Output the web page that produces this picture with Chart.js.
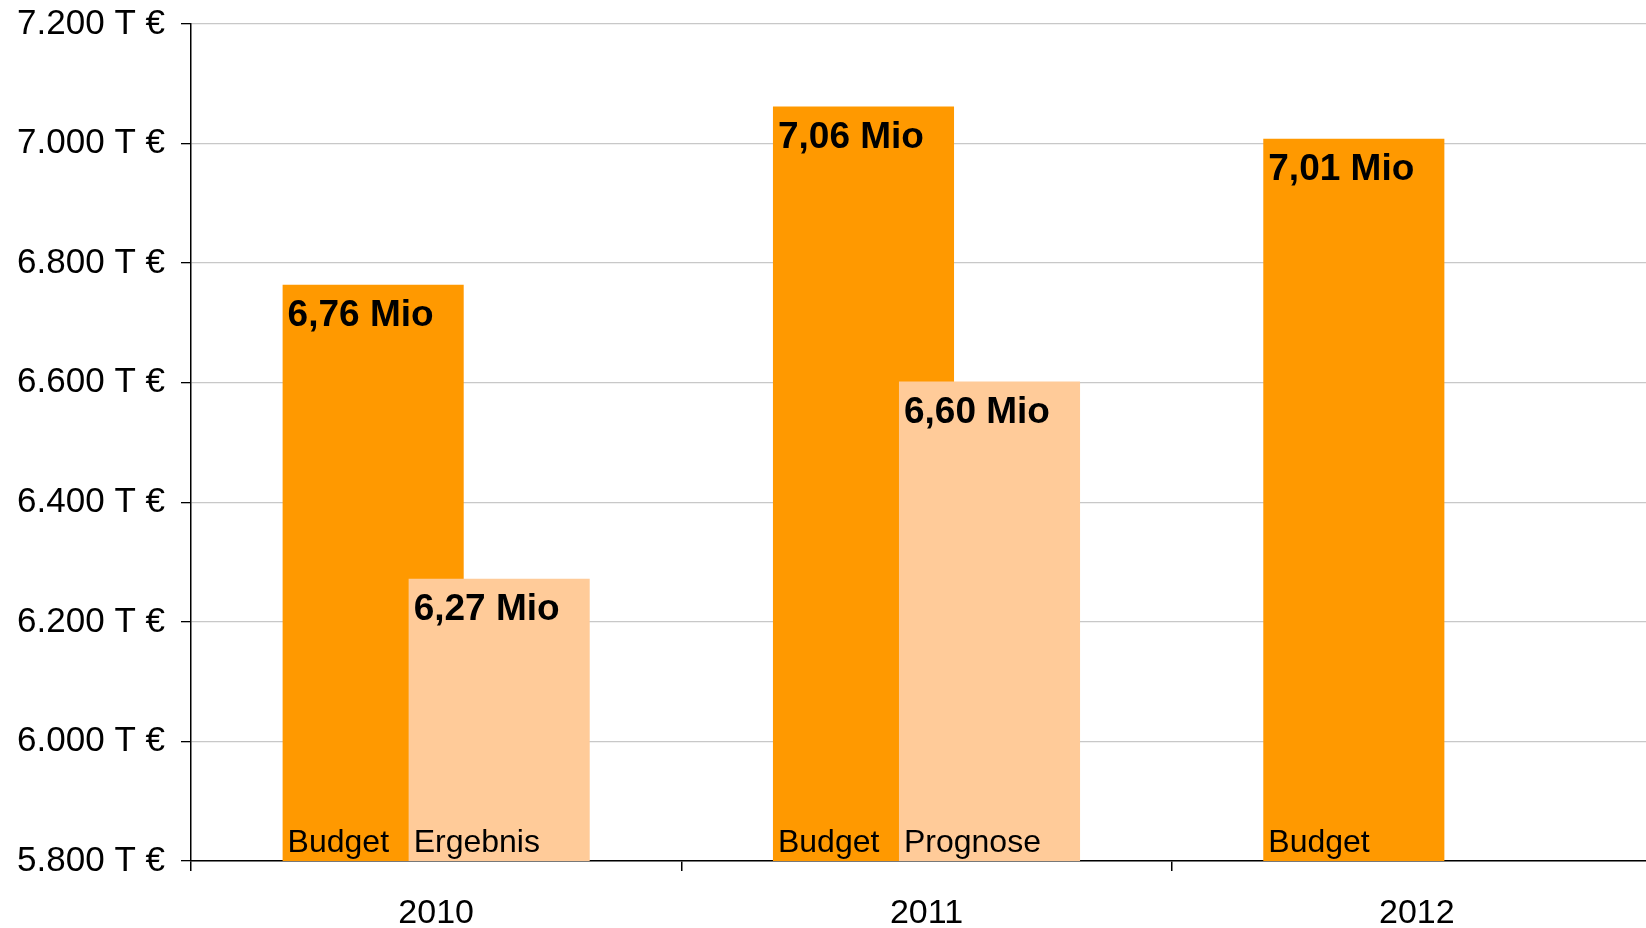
<!DOCTYPE html>
<html>
<head>
<meta charset="utf-8">
<script src="https://cdn.jsdelivr.net/npm/chart.js@4/dist/chart.umd.min.js"></script>
<style>
body { margin: 0; overflow: hidden; background: #fff; }
#wrap { position: absolute; left: 0; top: 0; width: 1662px; height: 928px; }
</style>
</head>
<body>
<div id="wrap"><canvas id="chart" width="1662" height="928"></canvas></div>
<script>
const years = ["2010", "2011", "2012"];
const budget = [6764, 7062, 7008];
const actual = [6272, 6602, null];
const budgetNames = ["Budget", "Budget", "Budget"];
const actualNames = ["Ergebnis", "Prognose", null];
const yTicks = [5800, 6000, 6200, 6400, 6600, 6800, 7000, 7200];

const font = "'Liberation Sans', Arial, sans-serif";
const mio = v => (v / 1000).toFixed(2).replace(".", ",") + " Mio";

// budget bars first, then the lighter ones on top of them, then the texts
const barText = {
	id: "barText",
	beforeDatasetsDraw(chart) {
		const { ctx, chartArea: a } = chart;
		ctx.save();
		ctx.beginPath();
		ctx.rect(a.left, a.top, a.right - a.left, a.bottom - a.top);
		ctx.clip();
		chart.getDatasetMeta(0).controller.draw();
		chart.getDatasetMeta(1).controller.draw();
		ctx.restore();
		return false;
	},
	afterDraw(chart) {
		const { ctx, chartArea: a } = chart;
		ctx.save();
		ctx.fillStyle = "#000";
		ctx.textAlign = "left";
		ctx.textBaseline = "alphabetic";
		[budgetNames, actualNames].forEach((names, d) => {
			const values = chart.data.datasets[d].data;
			chart.getDatasetMeta(d).data.forEach((bar, i) => {
				if (values[i] == null) return;
				const left = bar.x - bar.width / 2;
				ctx.font = "bold 37px " + font;
				ctx.fillText(mio(values[i]), left + 5, bar.y + 41);
				ctx.font = "32px " + font;
				ctx.fillText(names[i], left + 5, Math.min(bar.base, a.bottom) - 9);
			});
		});
		ctx.restore();
	},
};

new Chart(document.getElementById("chart"), {
	type: "bar",
	data: {
		labels: years,
		datasets: [
			{ data: budget, backgroundColor: "#ff9900" },
			{ data: actual, backgroundColor: "#ffcb99" },
		],
	},
	options: {
		responsive: false,
		animation: false,
		events: [],
		categoryPercentage: 0.514,
		barPercentage: 1.437,
		layout: { padding: { top: 24, right: 0, bottom: 0, left: 0 } },
		plugins: { legend: { display: false }, tooltip: { enabled: false } },
		scales: {
			x: {
				afterFit: s => { s.height = 67; s.paddingLeft = 0; s.paddingRight = 0; },
				grid: { drawOnChartArea: false, tickLength: 10, tickColor: "#000", lineWidth: 1.5 },
				border: { color: "#000", width: 1.5 },
				ticks: { color: "#000", padding: 22, font: { family: font, size: 34 } },
			},
			y: {
				min: yTicks[0],
				max: yTicks[yTicks.length - 1],
				afterFit: s => { s.width = 191; s.paddingTop = 0; s.paddingBottom = 0; },
				afterBuildTicks: s => { s.ticks = yTicks.map(v => ({ value: v })); },
				grid: { color: "#c8c8c8", lineWidth: 1.3, tickLength: 10, tickColor: "#000" },
				border: { color: "#000", width: 1.5 },
				ticks: {
					color: "#000",
					padding: 16,
					font: { family: font, size: 35 },
					callback: v => v.toLocaleString("de-DE") + " T €",
				},
			},
		},
	},
	plugins: [barText],
});
</script>
</body>
</html>
